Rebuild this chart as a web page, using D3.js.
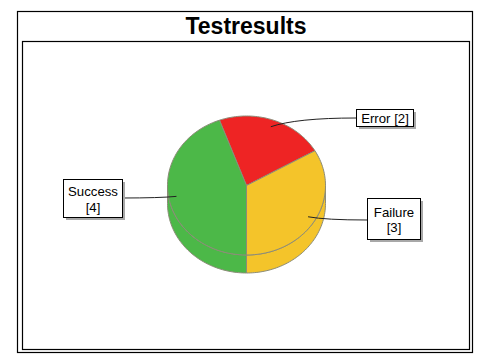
<!DOCTYPE html>
<html><head><meta charset="utf-8">
<script src="https://cdn.jsdelivr.net/npm/d3@7"></script>
<style>body{margin:0;background:#fff}svg{display:block}</style>
</head><body>
<script>
const title = "Testresults";
const categories = ["Error", "Failure", "Success"];
const values = [2, 3, 4];
const colors = ["#EE2424", "#F4C42A", "#4CB848"];
const labelLines = [["Error [2]"], ["Failure", "[3]"], ["Success", "[4]"]];

const W = 488, H = 360;
const svg = d3.select("body").append("svg").attr("width", W).attr("height", H);
const font = "'Liberation Sans', Arial, sans-serif";

svg.append("rect").attr("x", 17.5).attr("y", 11.5).attr("width", 455).attr("height", 341)
  .attr("fill", "#fff").attr("stroke", "#000").attr("stroke-width", 1.2);
svg.append("rect").attr("x", 22.5).attr("y", 41.5).attr("width", 447).attr("height", 308)
  .attr("fill", "#fff").attr("stroke", "#000").attr("stroke-width", 1.2);
svg.append("text").attr("x", 246).attr("y", 34).attr("text-anchor", "middle")
  .attr("font-family", font).attr("font-weight", "bold").attr("font-size", 23).text(title);

const cx = 246.5, cy = 185.5, rx = 79, ry = 69.5, depth = 18;
const sx = d3.scaleLinear().domain([-1, 1]).range([cx - rx, cx + rx]);
const sy = d3.scaleLinear().domain([-1, 1]).range([cy - ry, cy + ry]);
const pt = (a, r = 1, dy = 0) => [sx(r * Math.sin(a)), sy(-r * Math.cos(a)) + dy];

const pie = d3.pie().sort(null).startAngle(-Math.PI / 9).endAngle(2 * Math.PI - Math.PI / 9);
const arcs = pie(values);

function arcPts(a0, a1, dy, n = 60) {
  const out = [];
  for (let i = 0; i <= n; i++) out.push(pt(a0 + (a1 - a0) * i / n, 1, dy));
  return out;
}
const line = d3.line();
const edge = "#8C8C78";

// sides
arcs.forEach((d, i) => {
  const a0 = Math.max(d.startAngle, Math.PI / 2), a1 = Math.min(d.endAngle, 3 * Math.PI / 2);
  if (a1 <= a0) return;
  const top = arcPts(a0, a1, 0), bot = arcPts(a1, a0, depth);
  svg.append("path").attr("d", line(top.concat(bot)) + "Z")
    .attr("fill", colors[i]).attr("stroke", edge).attr("stroke-width", 1);
});
// tops
arcs.forEach((d, i) => {
  const pts = [[cx, cy]].concat(arcPts(d.startAngle, d.endAngle, 0));
  svg.append("path").attr("d", line(pts) + "Z")
    .attr("fill", colors[i]).attr("stroke", edge).attr("stroke-width", 1);
});

// labels
const boxes = [
  {x: 356, y: 109, w: 57, h: 17, lx: 356, ly: 118, ty: [123]},
  {x: 367, y: 198, w: 53, h: 41, lx: 367, ly: 220, ty: [217, 232]},
  {x: 63, y: 179, w: 59, h: 38, lx: 122, ly: 198, ty: [196, 212]}
];
arcs.forEach((d, i) => {
  const mid = (d.startAngle + d.endAngle) / 2;
  const [ax, ay] = pt(mid, 0.9);
  const b = boxes[i];
  const p = d3.path();
  p.moveTo(ax, ay);
  p.quadraticCurveTo(ax + (b.lx - ax) * 0.3, b.ly, b.lx, b.ly);
  svg.append("path").attr("d", p.toString()).attr("fill", "none")
    .attr("stroke", "#222").attr("stroke-width", 1);
});
arcs.forEach((d, i) => {
  const b = boxes[i];
  svg.append("rect").attr("x", b.x + 3).attr("y", b.y + 3).attr("width", b.w).attr("height", b.h)
    .attr("fill", "#A8A8A8");
  svg.append("rect").attr("x", b.x + 0.5).attr("y", b.y + 0.5).attr("width", b.w).attr("height", b.h)
    .attr("fill", "#fff").attr("stroke", "#000").attr("stroke-width", 1);
  const lines = labelLines[i];
  const t = svg.append("text").attr("font-family", font).attr("font-size", 13.2)
    .attr("text-anchor", "middle").attr("fill", "#000");
  lines.forEach((s, k) => {
    t.append("tspan").attr("x", b.x + b.w / 2 + 0.5).attr("y", b.ty[k]).text(s);
  });
});
</script>
</body></html>
